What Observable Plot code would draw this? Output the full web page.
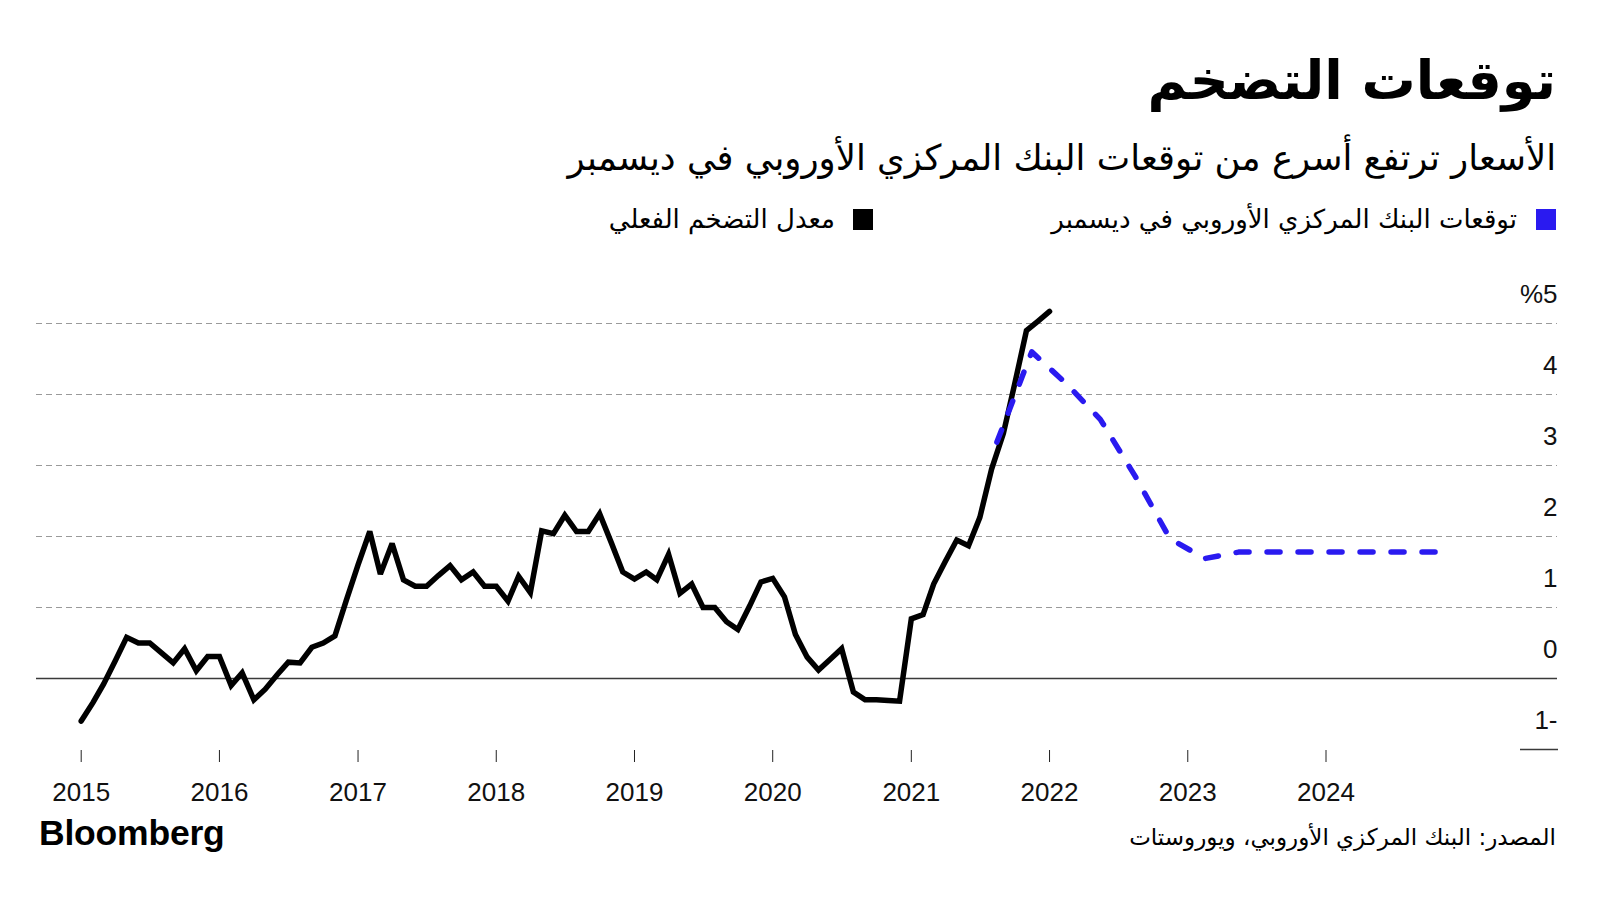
<!DOCTYPE html>
<html>
<head>
<meta charset="utf-8">
<script src="https://cdn.jsdelivr.net/npm/d3@7"></script>
<script src="https://cdn.jsdelivr.net/npm/@observablehq/plot@0.6"></script>
<style>
  body { margin: 0; background: #fff; width: 1600px; height: 900px; position: relative; overflow: hidden; color: #000; font-family: "DejaVu Sans", sans-serif; }
  .ar { position: absolute; direction: rtl; white-space: nowrap; line-height: 1; }
  #title { right: 44px; top: 54px; font-weight: bold; font-size: 54px; }
  #subtitle { right: 44px; top: 140px; font-size: 35.5px; }
  .sw { position: absolute; width: 20px; height: 21px; top: 209px; }
  #sw1 { right: 44px; background: #2a1af0; }
  #lg1 { right: 83px; top: 206px; font-size: 26px; }
  #sw2 { right: 727px; background: #000; }
  #lg2 { right: 765px; top: 206px; font-size: 26px; }
  #chart { position: absolute; left: 0; top: 260px; }
  #logo { position: absolute; left: 39px; top: 816px; font-family: "Liberation Sans", Arial, sans-serif; font-weight: bold; font-size: 35.5px; letter-spacing: -0.2px; line-height: 1; }
  #source { right: 44px; top: 826px; font-size: 23px; }
</style>
</head>
<body>
<div id="title" class="ar">توقعات التضخم</div>
<div id="subtitle" class="ar">الأسعار ترتفع أسرع من توقعات البنك المركزي الأوروبي في ديسمبر</div>
<div id="sw1" class="sw"></div>
<div id="lg1" class="ar">توقعات البنك المركزي الأوروبي في ديسمبر</div>
<div id="sw2" class="sw"></div>
<div id="lg2" class="ar">معدل التضخم الفعلي</div>
<div id="chart"></div>
<div id="logo">Bloomberg</div>
<div id="source" class="ar">المصدر: البنك المركزي الأوروبي، ويوروستات</div>
<script>
// Actual euro-area inflation, monthly from Jan 2015 to Jan 2022 (%)
const actualStart = "2015-01-01";
const actualValues = [
  -0.60, -0.34, -0.08, 0.25, 0.58, 0.50, 0.50, 0.36, 0.22, 0.42, 0.11, 0.31,   // 2015
   0.31, -0.10, 0.08, -0.30, -0.15, 0.05, 0.23, 0.22, 0.44, 0.50, 0.60, 1.10,  // 2016
   1.60, 2.07, 1.47, 1.90, 1.39, 1.30, 1.30, 1.45, 1.59, 1.39, 1.50, 1.30,     // 2017
   1.30, 1.09, 1.44, 1.21, 2.08, 2.04, 2.30, 2.07, 2.07, 2.32, 1.91, 1.50,     // 2018
   1.40, 1.50, 1.39, 1.75, 1.20, 1.33, 1.00, 1.00, 0.80, 0.69, 1.02, 1.36,     // 2019
   1.41, 1.15, 0.62, 0.30, 0.12, 0.27, 0.42, -0.19, -0.30, -0.30, -0.31, -0.32, // 2020
   0.84, 0.90, 1.33, 1.65, 1.95, 1.87, 2.27, 2.95, 3.45, 4.15, 4.90, 5.03,     // 2021
   5.17                                                                        // 2022
];

// ECB December projections, quarterly (%)
const forecastQuarters = ["2021-08-15", "2021-11-15", "2022-02-15", "2022-05-15", "2022-08-15", "2022-11-15",
  "2023-02-15", "2023-05-15", "2023-08-15", "2023-11-15", "2024-02-15", "2024-05-15", "2024-08-15", "2024-11-15"];
const forecastValues = [3.33, 4.60, 4.15, 3.65, 2.85, 1.97, 1.69, 1.78, 1.78, 1.78, 1.78, 1.78, 1.78, 1.78];

const xTickYears = [2015, 2016, 2017, 2018, 2019, 2020, 2021, 2022, 2023, 2024];
const xTickLabels = ["2015", "2016", "2017", "2018", "2019", "2020", "2021", "2022", "2023", "2024"];
const yTicks = [-1, 0, 1, 2, 3, 4, 5];
const yTickLabels = ["1-", "0", "1", "2", "3", "4", "%5"];
const yGridValues = [1, 2, 3, 4, 5];

const start = new Date(actualStart);
const actual = actualValues.map((v, i) => ({date: d3.utcMonth.offset(start, i), value: v}));
const forecast = forecastQuarters.map((d, i) => ({date: new Date(d), value: forecastValues[i]}));
const xTickDates = xTickYears.map(y => new Date(Date.UTC(y, 0, 1)));

const chart = Plot.plot({
  width: 1600,
  height: 560,
  marginLeft: 36,
  marginRight: 43,
  marginTop: 0,
  marginBottom: 70,
  style: {fontFamily: "'Liberation Sans', Arial, sans-serif", fontSize: "26px", color: "#111", background: "transparent", overflow: "visible"},
  x: {type: "utc", domain: [xTickDates[0], xTickDates[xTickDates.length - 1]], range: [80.7, 1325.5]},
  y: {domain: [-1, 5], range: [489, 63]},
  marks: [
    Plot.ruleY(yGridValues, {stroke: "#9a9a9a", strokeWidth: 1.2, strokeDasharray: "6,4"}),
    Plot.ruleY([0], {stroke: "#3a3a3a", strokeWidth: 1.6}),
    Plot.axisY({anchor: "right", ticks: [-1], tickSize: -38, tickFormat: () => "", stroke: "#3a3a3a", strokeWidth: 1.6, label: null}),
    Plot.axisY({anchor: "right", ticks: yTicks, tickSize: 0, tickPadding: 0, textAnchor: "end", dy: -29,
      tickFormat: (d) => yTickLabels[yTicks.indexOf(d)], fontSize: 26, fill: "#111", label: null}),
    Plot.axisX({ticks: xTickDates, tickSize: 12, tickPadding: 20, stroke: "#222",
      tickFormat: (d) => xTickLabels[xTickDates.findIndex(t => +t === +d)], fontSize: 26, fill: "#111", label: null}),
    Plot.line(actual, {x: "date", y: "value", stroke: "#000", strokeWidth: 5.5, strokeLinejoin: "miter", strokeMiterlimit: 3, strokeLinecap: "round"}),
    Plot.line(forecast, {x: "date", y: "value", stroke: "#2a1af0", strokeWidth: 5.5, strokeDasharray: "13,18", strokeLinecap: "round", strokeLinejoin: "round"})
  ]
});
document.getElementById("chart").appendChild(chart);
</script>
</body>
</html>
